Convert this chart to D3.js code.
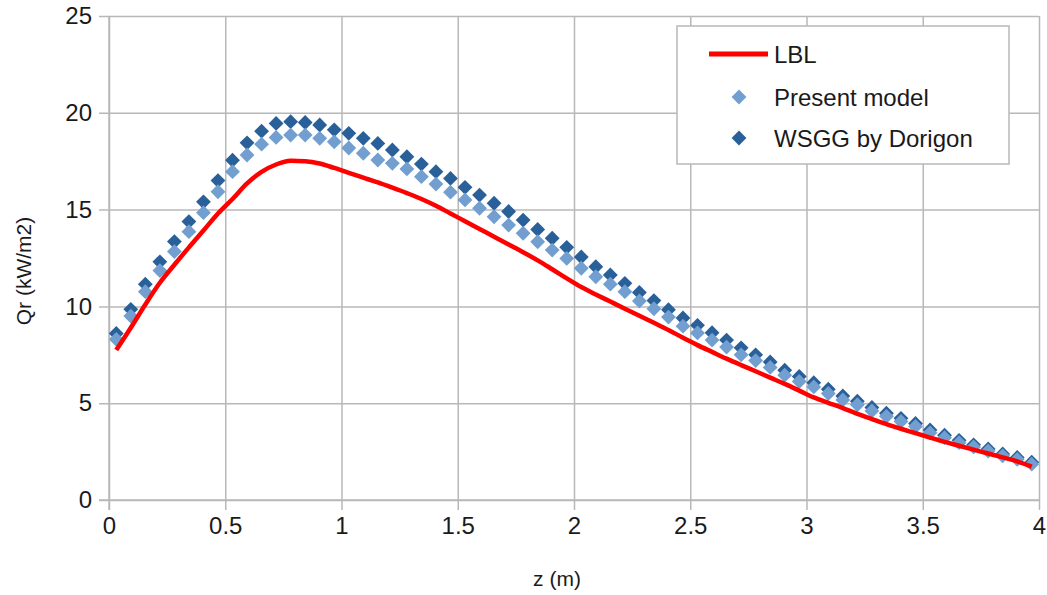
<!DOCTYPE html>
<html>
<head>
<meta charset="utf-8">
<script src="https://cdn.jsdelivr.net/npm/d3@7"></script>
<style>
  html, body { margin: 0; padding: 0; background: #fff; }
  svg { display: block; font-family: "Liberation Sans", Arial, sans-serif; }
</style>
</head>
<body>
<svg id="chart" width="1047" height="595"></svg>
<script>
// ---- data ----
const zValues = [0.03125,0.09375,0.15625,0.21875,0.28125,0.34375,0.40625,0.46875,0.53125,0.59375,
0.65625,0.71875,0.78125,0.84375,0.90625,0.96875,1.03125,1.09375,1.15625,1.21875,
1.28125,1.34375,1.40625,1.46875,1.53125,1.59375,1.65625,1.71875,1.78125,1.84375,
1.90625,1.96875,2.03125,2.09375,2.15625,2.21875,2.28125,2.34375,2.40625,2.46875,
2.53125,2.59375,2.65625,2.71875,2.78125,2.84375,2.90625,2.96875,3.03125,3.09375,
3.15625,3.21875,3.28125,3.34375,3.40625,3.46875,3.53125,3.59375,3.65625,3.71875,
3.78125,3.84375,3.90625,3.96875];

const lblValues = [7.75,8.9,10.1,11.22,12.15,13.05,13.92,14.8,15.55,16.35,
16.95,17.33,17.52,17.5,17.38,17.15,16.9,16.65,16.4,16.13,
15.85,15.55,15.2,14.8,14.4,14.0,13.6,13.2,12.8,12.38,
11.92,11.45,11.0,10.62,10.25,9.88,9.52,9.15,8.78,8.38,
8.0,7.65,7.3,6.97,6.65,6.32,6.0,5.65,5.3,5.02,
4.75,4.45,4.18,3.92,3.68,3.45,3.22,3.0,2.8,2.6,
2.4,2.2,2.0,1.72];

const presentValues = [8.3,9.5,10.76,11.85,12.83,13.86,14.84,15.92,16.96,17.82,
18.38,18.73,18.85,18.85,18.68,18.5,18.18,17.91,17.56,17.39,
17.1,16.7,16.32,15.9,15.5,15.07,14.63,14.2,13.78,13.34,
12.91,12.48,11.97,11.53,11.15,10.76,10.28,9.88,9.45,8.98,
8.63,8.26,7.9,7.5,7.2,6.85,6.45,6.12,5.84,5.5,
5.17,4.92,4.6,4.32,4.06,3.8,3.47,3.22,2.96,2.74,
2.53,2.28,2.1,1.85];

const dorigonValues = [8.6,9.85,11.15,12.3,13.35,14.38,15.4,16.5,17.55,18.45,
19.05,19.45,19.54,19.5,19.37,19.12,18.94,18.68,18.42,18.08,
17.73,17.35,16.96,16.61,16.15,15.75,15.33,14.9,14.46,13.97,
13.52,13.05,12.55,12.05,11.62,11.19,10.72,10.3,9.83,9.4,
9.02,8.64,8.26,7.86,7.5,7.13,6.7,6.38,6.06,5.72,
5.37,5.1,4.78,4.48,4.22,3.95,3.62,3.35,3.08,2.85,
2.64,2.38,2.2,1.95];

const xTicks = [0,0.5,1,1.5,2,2.5,3,3.5,4];
const yTicks = [0,5,10,15,20,25];
const seriesNames = ["LBL","Present model","WSGG by Dorigon"];
const xTitle = "z (m)";
const yTitle = "Qr (kW/m2)";

// ---- layout ----
const svg = d3.select("#chart");
const pL = 109, pR = 1039, pT = 16, pB = 500;
const x = d3.scaleLinear().domain([0,4]).range([pL,pR]);
const y = d3.scaleLinear().domain([0,25]).range([pB,pT]);

const gridColor = "#b8b8b8";
const textColor = "#1a1a1a";
const lightBlue = "#729fcf";
const darkBlue = "#2a6099";
const red = "#ff0000";

// y axis + grid
const gy = svg.append("g").attr("transform", `translate(${pL},0)`)
  .call(d3.axisLeft(y).tickValues(yTicks).tickSize(10).tickPadding(6).tickFormat(d => String(d)));
gy.select(".domain").remove();
gy.selectAll(".tick line").attr("x1", -10).attr("x2", pR-pL).attr("stroke", gridColor).attr("stroke-width", 1.5);
gy.selectAll(".tick text").attr("x", -17).attr("font-size", 24).attr("fill", textColor)
  .attr("font-family", "Liberation Sans, Arial, sans-serif");

// x axis + grid
const gx = svg.append("g").attr("transform", `translate(0,${pB})`)
  .call(d3.axisBottom(x).tickValues(xTicks).tickSize(10).tickPadding(6).tickFormat(d => String(d)));
gx.select(".domain").remove();
gx.selectAll(".tick line").attr("y1", pT-pB).attr("y2", 10).attr("stroke", gridColor).attr("stroke-width", 1.5);
gx.selectAll(".tick text").attr("y", 17).attr("font-size", 24).attr("fill", textColor)
  .attr("font-family", "Liberation Sans, Arial, sans-serif");

// axis lines
svg.append("line").attr("x1", pL).attr("x2", pL).attr("y1", pT).attr("y2", pB+10)
  .attr("stroke", gridColor).attr("stroke-width", 1.5);
svg.append("line").attr("x1", pL-10).attr("x2", pR).attr("y1", pB).attr("y2", pB)
  .attr("stroke", gridColor).attr("stroke-width", 1.5);

// titles
svg.append("text").attr("x", 557).attr("y", 586).attr("text-anchor", "middle")
  .attr("font-size", 21).attr("fill", textColor).text(xTitle);
svg.append("text").attr("transform", "translate(31,271) rotate(-90)").attr("text-anchor", "middle")
  .attr("font-size", 21).attr("fill", textColor).text(yTitle);

// markers
const diamond = d3.symbol().type(d3.symbolSquare).size(110);
function drawMarkers(vals, color) {
  svg.append("g").selectAll("path").data(zValues.map((z,i) => [z, vals[i]]))
    .join("path")
    .attr("d", diamond)
    .attr("transform", d => `translate(${x(d[0])},${y(d[1])}) rotate(45)`)
    .attr("fill", color);
}
drawMarkers(dorigonValues, darkBlue);
drawMarkers(presentValues, lightBlue);

// LBL line
const line = d3.line().x(d => x(d[0])).y(d => y(d[1])).curve(d3.curveMonotoneX);
svg.append("path").datum(zValues.map((z,i) => [z, lblValues[i]]))
  .attr("d", line).attr("fill", "none").attr("stroke", red).attr("stroke-width", 4.5)
  .attr("stroke-linejoin", "round");

// legend
const lg = svg.append("g");
lg.append("rect").attr("x", 677).attr("y", 26).attr("width", 332).attr("height", 138)
  .attr("fill", "#fff").attr("stroke", gridColor).attr("stroke-width", 1.5);
lg.append("line").attr("x1", 709).attr("x2", 768).attr("y1", 54).attr("y2", 54)
  .attr("stroke", red).attr("stroke-width", 5);
lg.append("path").attr("d", diamond).attr("transform", "translate(739,97) rotate(45)").attr("fill", lightBlue);
lg.append("path").attr("d", diamond).attr("transform", "translate(739,138) rotate(45)").attr("fill", darkBlue);
const legendY = [54, 97, 138];
seriesNames.forEach((name, i) => {
  lg.append("text").attr("x", 774).attr("y", legendY[i]).attr("dy", "0.36em")
    .attr("font-size", 24).attr("fill", textColor).text(name);
});
</script>
</body>
</html>
